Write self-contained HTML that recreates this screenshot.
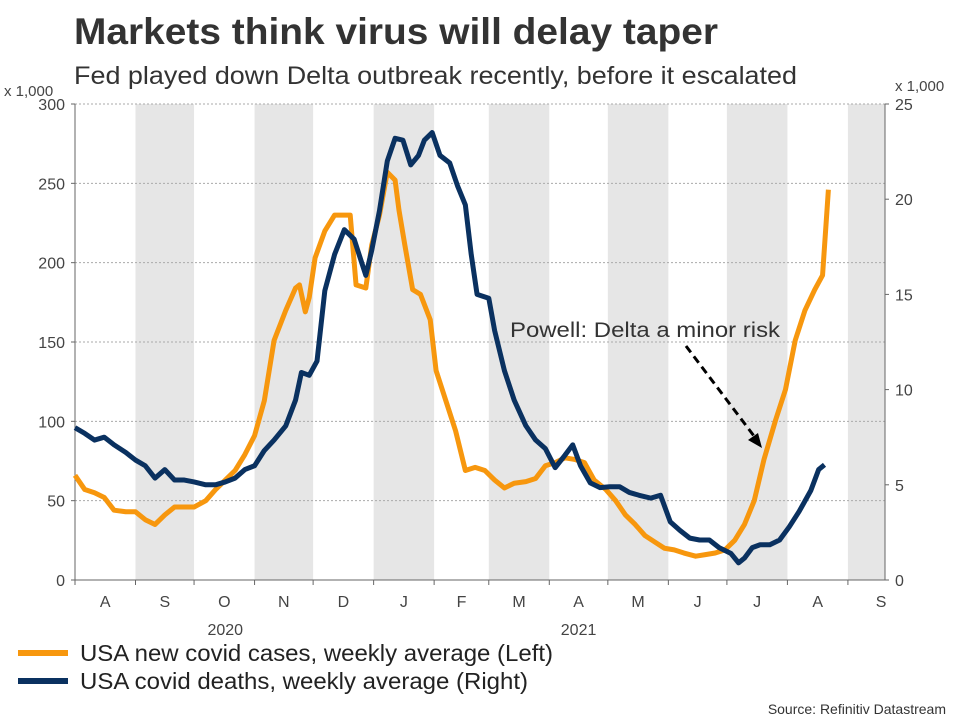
<!DOCTYPE html>
<html><head><meta charset="utf-8"><style>
body{margin:0;background:#fff;font-family:"Liberation Sans",sans-serif}
</style></head><body>
<svg id="c" width="960" height="720" xmlns="http://www.w3.org/2000/svg" style="font-family:'Liberation Sans',sans-serif">
<text x="74" y="44" font-size="37" font-weight="bold" fill="#333" textLength="644" lengthAdjust="spacingAndGlyphs">Markets think virus will delay taper</text>
<text x="74" y="84" font-size="25" fill="#333" textLength="723" lengthAdjust="spacingAndGlyphs">Fed played down Delta outbreak recently, before it escalated</text>
<text x="4" y="96" font-size="15" fill="#444">x 1,000</text>
<text x="895" y="91" font-size="15" fill="#444">x 1,000</text>
<g id="bands"></g><g id="grid"></g><g id="axes"></g><g id="series"></g>
<text x="510" y="337" font-size="21" fill="#333" textLength="270" lengthAdjust="spacingAndGlyphs">Powell: Delta a minor risk</text>
<line x1="686" y1="346" x2="757" y2="440" stroke="#000" stroke-width="3" stroke-dasharray="8,5"/>
<polygon points="762,448 748,440 758,433" fill="#000"/>
<line x1="18" y1="653" x2="68" y2="653" stroke="#f7970e" stroke-width="6"/>
<text x="80" y="661" font-size="23" fill="#222" textLength="473" lengthAdjust="spacingAndGlyphs">USA new covid cases, weekly average (Left)</text>
<line x1="18" y1="681" x2="68" y2="681" stroke="#0a3160" stroke-width="6"/>
<text x="80" y="689" font-size="23" fill="#222" textLength="448" lengthAdjust="spacingAndGlyphs">USA covid deaths, weekly average (Right)</text>
<text x="946" y="714" font-size="14" fill="#333" text-anchor="end">Source: Refinitiv Datastream</text>
</svg>
<script>
const monthStarts=[0,31,61,92,122,153,184,212,243,273,304,334,365,396];
const monthLabels=["A","S","O","N","D","J","F","M","A","M","J","J","A","S"];
const leftTicks=[0,50,100,150,200,250,300];
const rightTicks=[0,5,10,15,20,25];
const caseDays=[0,5,10,15,20,26,31,36,41,46,51,56,61,67,72,77,82,87,92,97,102,108,113,115,118,120,123,128,133,138,141,144,149,152,156,160,164,166,169,173,177,182,185,190,195,200,205,210,215,220,225,231,236,241,246,251,256,261,266,272,277,282,287,292,297,302,307,312,318,323,328,333,338,343,348,353,359,364,369,374,379,383,386];
const caseVals=[66,57,55,52,44,43,43,38,35,41,46,46,46,50,57,63,69,79,91,113,151,170,184,186,169,178,203,220,230,230,230,186,184,211,230,257,252,233,211,183,180,164,132,113,94,69,71,69,63,58,61,62,64,72,74,77,76,74,63,57,50,41,35,28,24,20,19,17,15,16,17,19,25,35,50,76,101,120,151,170,183,192,246];
const deathDays=[0,5,10,15,20,26,31,36,41,46,51,56,61,67,72,77,82,87,92,97,102,108,113,116,120,124,128,133,138,143,149,152,156,160,164,168,172,176,179,183,187,192,196,200,203,206,212,215,220,225,231,236,241,246,251,255,259,264,269,274,279,284,289,295,300,305,310,315,320,325,330,336,340,343,347,351,356,361,366,371,377,381,384];
const deathVals=[8.0,7.7,7.35,7.5,7.1,6.7,6.3,6.0,5.35,5.8,5.25,5.25,5.15,5.0,5.0,5.15,5.35,5.8,6.0,6.8,7.35,8.1,9.45,10.9,10.75,11.5,15.2,17.1,18.4,17.9,16.0,17.3,19.4,22.0,23.2,23.1,21.8,22.3,23.1,23.5,22.3,21.9,20.7,19.7,17.1,15.0,14.8,13.1,11.0,9.45,8.1,7.35,6.9,5.9,6.55,7.1,6.0,5.1,4.85,4.9,4.9,4.6,4.45,4.3,4.45,3.05,2.6,2.2,2.1,2.1,1.7,1.4,0.9,1.15,1.7,1.85,1.85,2.1,2.8,3.6,4.7,5.8,6.05];
const X0=75,X1=885,Y0=580,Y1=104,DMAX=415;
const x=d=>X0+d*(X1-X0)/DMAX;
const yl=v=>Y0-v*(Y0-Y1)/300;
const yr=v=>Y0-v*(Y0-Y1)/25;
const NS="http://www.w3.org/2000/svg";
function mk(p,tag,at){const e=document.createElementNS(NS,tag);for(const k in at)e.setAttribute(k,at[k]);document.getElementById(p).appendChild(e);return e;}
for(let i=1;i<monthStarts.length;i+=2){
 const e=mk('bands','rect',{x:x(monthStarts[i]),y:Y1,width:x(Math.min(monthStarts[i+1]||DMAX,DMAX))-x(monthStarts[i]),height:Y0-Y1,fill:'#e6e6e6'});
 
 
}
leftTicks.forEach(t=>{
 if(t>0){const g=mk('grid','line',{x1:X0,x2:X1,y1:yl(t),y2:yl(t),stroke:'#aaa','stroke-dasharray':'2,2','stroke-width':1});
 
 }
 const tx=mk('axes','text',{x:X0-10,y:yl(t)+6,'font-size':16,fill:'#444','text-anchor':'end'});tx.textContent=t;
 
 
 mk('axes','line',{x1:X0-4,x2:X0,y1:yl(t),y2:yl(t),stroke:'#666'});
});
rightTicks.forEach(t=>{
 const tx=mk('axes','text',{x:X1+10,y:yr(t)+6,'font-size':16,fill:'#444'});tx.textContent=t;
 
 
 mk('axes','line',{x1:X1,x2:X1+4,y1:yr(t),y2:yr(t),stroke:'#666'});
});
mk('axes','line',{x1:X0,x2:X0,y1:Y1,y2:Y0,stroke:'#666'});
mk('axes','line',{x1:X1,x2:X1,y1:Y1,y2:Y0,stroke:'#666'});
mk('axes','line',{x1:X0,x2:X1,y1:Y0,y2:Y0,stroke:'#666'});
monthStarts.forEach((d,i)=>{
 mk('axes','line',{x1:x(d),x2:x(d),y1:Y0,y2:Y0+5,stroke:'#666'});
 const end=Math.min(monthStarts[i+1]||DMAX+15,DMAX+15);
 const tx=mk('axes','text',{x:x((d+end)/2),y:607,'font-size':16,fill:'#444','text-anchor':'middle'});tx.textContent=monthLabels[i];
 
 
});
[["2020",77],["2021",258]].forEach(([l,d])=>{const tx=mk('axes','text',{x:x(d),y:635,'font-size':16,fill:'#444','text-anchor':'middle'});tx.textContent=l;
 
 });
const p1=mk('series','polyline',{points:caseDays.map((d,i)=>x(d)+','+yl(caseVals[i])).join(' '),fill:'none',stroke:'#f7970e','stroke-width':5,'stroke-linejoin':'round'});


const p2=mk('series','polyline',{points:deathDays.map((d,i)=>x(d)+','+yr(deathVals[i])).join(' '),fill:'none',stroke:'#0a3160','stroke-width':5,'stroke-linejoin':'round'});


</script>
</body></html>
